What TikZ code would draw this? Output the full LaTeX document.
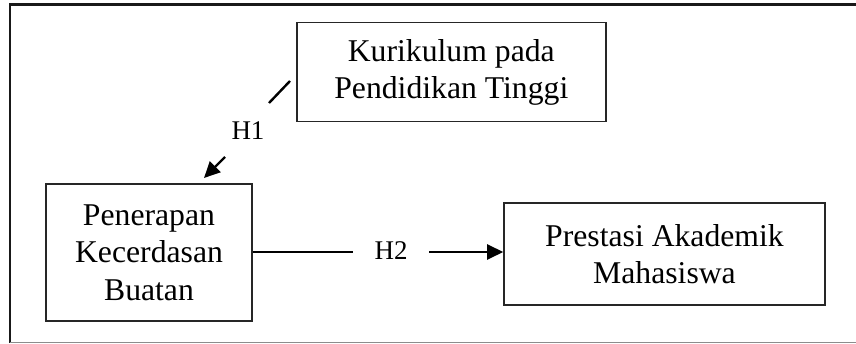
\documentclass[tikz,border=0pt]{standalone}
\usepackage{fontspec}
\setmainfont{Liberation Serif}
\usetikzlibrary{arrows.meta}

\begin{document}
\begin{tikzpicture}[x=1pt,y=-1pt,
  varbox/.style={draw=black!85,line width=1.6pt,align=center,inner sep=0pt,
    font=\fontsize{31.7}{37.5}\selectfont},
  hyplabel/.style={font=\fontsize{27}{30}\selectfont,inner sep=1pt},
  hypline/.style={draw=black,line width=2.4pt},
  hyparrow/.style={hypline,-{Triangle[length=16pt,width=15pt]}}]
  \useasboundingbox (0,0) rectangle (856,344);

  % frame around the model (open to the right)
  \draw[line width=2.4pt,black!90] (856,4.5) -- (10,4.5) -- (10,342.5);
  \draw[line width=1.4pt,black!45] (10,342.5) -- (856,342.5);

  % variables
  \node[varbox,minimum width=309pt,minimum height=99pt] (kur) at (451.3,72.2)
    {Kurikulum pada\\Pendidikan Tinggi};
  \node[varbox,minimum width=206pt,minimum height=137pt] (ai) at (149,252.5)
    {Penerapan\\Kecerdasan\\Buatan};
  \node[varbox,minimum width=321pt,minimum height=102pt] (pres) at (664.5,254)
    {Prestasi Akademik\\Mahasiswa};

  % hypothesis H1
  \node[hyplabel] (h1) at (248,131) {H1};
  \coordinate (h1a) at (290,81);
  \coordinate (h1b) at (269,103);
  \coordinate (h1c) at (225,157);
  \coordinate (h1d) at (204,178);
  \draw[hypline] (h1a) -- (h1b);
  \draw[hyparrow] (h1c) -- (h1d);

  % hypothesis H2
  \node[hyplabel] (h2) at (391,251) {H2};
  \coordinate (h2a) at (353,252);
  \coordinate (h2b) at (429,252);
  \draw[hypline] (ai.east |- h2a) -- (h2a);
  \draw[hyparrow] (h2b) -- (pres.west |- h2b);
\end{tikzpicture}
\end{document}
